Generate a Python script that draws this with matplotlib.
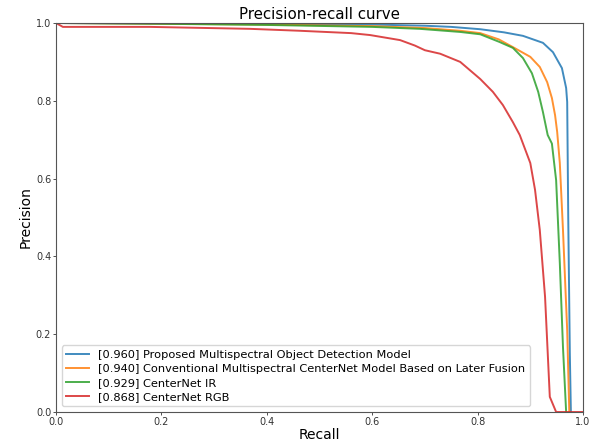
import matplotlib
matplotlib.use("Agg")
import matplotlib.pyplot as plt
import numpy as np

labels = [
    "[0.960] Proposed Multispectral Object Detection Model",
    "[0.940] Conventional Multispectral CenterNet Model Based on Later Fusion",
    "[0.929] CenterNet IR",
    "[0.868] CenterNet RGB",
]
colors = ["#1f77b4", "#ff7f0e", "#2ca02c", "#d62728"]

blue_r = [0.0, 0.2, 0.4, 0.6, 0.7, 0.75, 0.805, 0.85, 0.886, 0.924, 0.943, 0.96, 0.968, 0.970, 0.972, 0.975, 0.977]
blue_p = [1.0, 0.999, 0.998, 0.996, 0.993, 0.99, 0.984, 0.976, 0.967, 0.949, 0.925, 0.884, 0.833, 0.797, 0.5, 0.15, 0.0]

orange_r = [0.0, 0.2, 0.4, 0.6, 0.7, 0.767, 0.805, 0.84, 0.867, 0.9, 0.918, 0.932, 0.941, 0.947, 0.951, 0.956, 0.962, 0.970, 0.974]
orange_p = [1.0, 0.998, 0.996, 0.992, 0.987, 0.98, 0.974, 0.958, 0.938, 0.913, 0.887, 0.848, 0.807, 0.763, 0.72, 0.64, 0.468, 0.21, 0.0]

green_r = [0.0, 0.2, 0.4, 0.6, 0.69, 0.767, 0.805, 0.842, 0.867, 0.886, 0.903, 0.915, 0.924, 0.933, 0.941, 0.949, 0.956, 0.962, 0.968]
green_p = [1.0, 0.998, 0.995, 0.99, 0.985, 0.977, 0.971, 0.951, 0.936, 0.91, 0.871, 0.823, 0.771, 0.712, 0.69, 0.596, 0.383, 0.167, 0.0]

red_r = [0.0, 0.013, 0.178, 0.368, 0.463, 0.56, 0.596, 0.653, 0.681, 0.70, 0.729, 0.767, 0.805, 0.829, 0.848, 0.867, 0.880, 0.9, 0.909, 0.918, 0.928, 0.937, 0.949, 1.0]
red_p = [1.0, 0.99, 0.99, 0.985, 0.98, 0.974, 0.969, 0.956, 0.942, 0.93, 0.921, 0.9, 0.856, 0.823, 0.789, 0.745, 0.712, 0.64, 0.571, 0.468, 0.296, 0.039, 0.0, 0.0]

curves = [(blue_r, blue_p), (orange_r, orange_p), (green_r, green_p), (red_r, red_p)]

fig = plt.figure(figsize=(5.95, 4.46), dpi=100)
ax = fig.add_axes([56/595, 34/446, 527/595, 389/446])
for (r, p), lab, c in zip(curves, labels, colors):
    ax.plot(r, p, color=c, lw=1.4, alpha=0.85, label=lab)

ax.set_xlim(0, 1)
ax.set_ylim(0, 1)
ax.set_xticks([0, 0.2, 0.4, 0.6, 0.8, 1.0])
ax.set_yticks([0, 0.2, 0.4, 0.6, 0.8, 1.0])
ax.tick_params(labelsize=7, length=2, width=0.6, pad=1.5, colors="#333333")
for s in ax.spines.values():
    s.set_color("#555555")
    s.set_linewidth(0.8)
ax.set_xlabel("Recall", fontsize=10, labelpad=1)
ax.set_ylabel("Precision", fontsize=10, labelpad=2)
ax.set_title("Precision-recall curve", fontsize=10.8, pad=3)
ax.legend(loc="lower left", fontsize=8.2, frameon=True, borderaxespad=0.5, handlelength=2.0, labelspacing=0.35)
fig.savefig("out.png", dpi=100)
